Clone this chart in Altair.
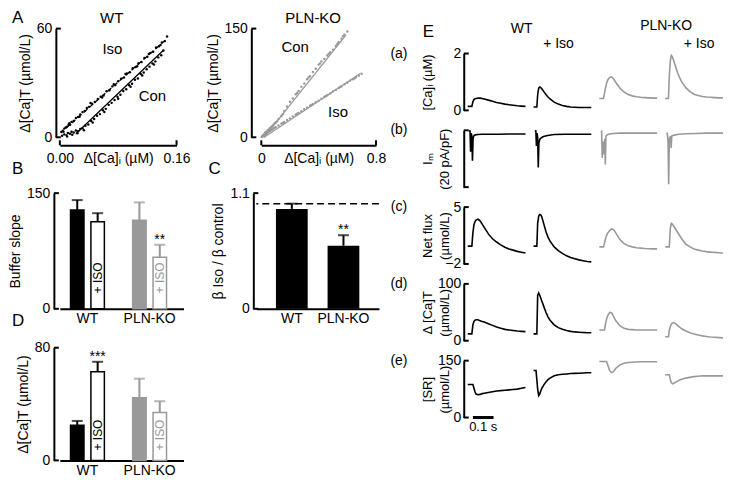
import altair as alt
import pandas as pd

FONT = "Liberation Sans"
BLACK = "#000000"
GRAY = "#999999"
WHITE = "#ffffff"

# ---------------- Panel A : scatter data ----------------
wt_con_x = [0.003, 0.006, 0.009, 0.011, 0.014, 0.016, 0.019, 0.022, 0.025, 0.028,
            0.031, 0.035, 0.039, 0.043, 0.047, 0.051, 0.055, 0.059, 0.063, 0.067,
            0.071, 0.075, 0.079, 0.083, 0.087, 0.091, 0.095, 0.099, 0.103, 0.107,
            0.111, 0.115, 0.119, 0.123, 0.127, 0.131, 0.135, 0.139, 0.142,
            0.010, 0.017, 0.024, 0.033, 0.045, 0.061, 0.080, 0.097, 0.113, 0.129]
wt_con_y = [0.8, 1.6, 1.2, 2.4, 2.0, 3.1, 2.6, 3.8, 3.3, 4.6,
            5.0, 6.4, 7.1, 9.0, 10.1, 11.9, 12.8, 14.9, 15.7, 17.9,
            19.0, 20.6, 22.4, 23.5, 25.6, 26.5, 28.7, 29.6, 31.8, 32.5,
            34.9, 35.8, 37.6, 39.0, 40.7, 41.9, 44.1, 45.3, 47.9,
            0.4, 1.4, 2.2, 3.9, 8.2, 14.0, 21.3, 27.9, 34.1, 40.2]
wt_iso_x = [0.002, 0.004, 0.006, 0.008, 0.010, 0.012, 0.014, 0.016, 0.019, 0.022,
            0.025, 0.028, 0.031, 0.034, 0.037, 0.040, 0.044, 0.048, 0.052, 0.056,
            0.060, 0.064, 0.068, 0.072, 0.076, 0.080, 0.084, 0.088, 0.092, 0.096,
            0.100, 0.104, 0.108, 0.112, 0.116, 0.120, 0.124, 0.128, 0.132, 0.136,
            0.140, 0.144, 0.147,
            0.005, 0.013, 0.027, 0.042, 0.058, 0.074, 0.090, 0.106, 0.122, 0.138]
wt_iso_y = [2.9, 3.6, 4.8, 5.4, 5.9, 7.0, 6.9, 8.5, 9.0, 10.6,
            11.2, 12.6, 13.9, 14.5, 16.2, 16.8, 18.6, 19.5, 21.2, 22.4,
            23.1, 25.4, 26.0, 28.1, 28.9, 30.9, 32.3, 33.0, 35.2, 35.9,
            38.1, 38.8, 40.9, 41.6, 43.8, 44.5, 46.6, 47.2, 49.6, 50.3,
            52.4, 53.1, 55.6,
            3.1, 7.8, 11.3, 18.9, 22.0, 29.3, 35.0, 39.2, 46.0, 51.0]
wt_fit_con_x = [0.022, 0.142]
wt_fit_con_y = [2, 48]
wt_fit_iso_x = [0.008, 0.146]
wt_fit_iso_y = [5, 54]

ko_con_x = [0.004, 0.008, 0.012, 0.016, 0.02, 0.025, 0.03, 0.035, 0.04, 0.045,
            0.05, 0.06, 0.07, 0.08, 0.09, 0.10, 0.12, 0.14, 0.16, 0.18,
            0.20, 0.22, 0.24, 0.26, 0.28, 0.30, 0.32, 0.34, 0.36, 0.38,
            0.40, 0.42, 0.44, 0.46, 0.48, 0.50, 0.52, 0.54, 0.56, 0.58, 0.60,
            0.015, 0.028, 0.055, 0.11, 0.15, 0.25, 0.33, 0.41, 0.47, 0.53, 0.57]
ko_con_y = [0.5, 1.5, 2.2, 3.3, 3.9, 5.2, 6.0, 7.4, 8.1, 9.6,
            10.2, 12.5, 14.6, 16.2, 18.8, 20.5, 25.3, 29.4, 36.2, 42.6,
            49.1, 53.5, 59.3, 63.8, 69.6, 74.1, 80.0, 84.4, 90.2, 94.5,
            100.3, 104.8, 108.2, 112.9, 117.4, 121.0, 126.1, 131.2, 136.0, 141.6, 146.0,
            1.9, 6.6, 10.9, 22.0, 31.8, 61.0, 82.6, 101.9, 115.0, 128.8, 139.5]
ko_iso_x = [0.004, 0.008, 0.012, 0.016, 0.02, 0.025, 0.03, 0.04, 0.05, 0.06,
            0.07, 0.08, 0.10, 0.12, 0.14, 0.16, 0.18, 0.20, 0.22, 0.24,
            0.26, 0.28, 0.30, 0.32, 0.34, 0.36, 0.38, 0.40, 0.42, 0.44,
            0.46, 0.48, 0.50, 0.52, 0.54, 0.56, 0.58, 0.60, 0.62, 0.64,
            0.66, 0.68, 0.70,
            0.035, 0.09, 0.15, 0.25, 0.35, 0.45, 0.55, 0.65]
ko_iso_y = [0.6, 1.3, 2.0, 2.6, 3.1, 3.8, 4.5, 5.9, 7.4, 8.6,
            10.1, 11.2, 13.8, 16.3, 18.9, 21.0, 23.8, 26.1, 28.6, 31.0,
            33.7, 35.9, 38.6, 40.8, 43.5, 45.8, 48.4, 50.6, 53.2, 55.7,
            58.1, 60.5, 63.2, 65.4, 68.1, 70.3, 73.0, 75.2, 77.9, 80.1,
            82.8, 85.0, 87.7,
            5.4, 12.7, 19.8, 32.5, 44.6, 57.0, 69.4, 81.6]
ko_fit_con_x = [0.02, 0.59]
ko_fit_con_y = [0, 141]
ko_fit_iso_x = [0.02, 0.69]
ko_fit_iso_y = [0, 88]

# ---------------- Panels B, C, D : bar data ----------------
bar_groups = ["WT", "WT", "PLN-KO", "PLN-KO"]
bar_conds = ["Con", "Iso", "Con", "Iso"]
bar_keys = ["WT Con", "WT Iso", "PLN-KO Con", "PLN-KO Iso"]
bar_iso_text = ["", "+ ISO", "", "+ ISO"]
slope_mean = [128, 113, 115, 67]
slope_err = [13, 11, 23, 16]
slope_sig = ["", "", "", "**"]
ratio_groups = ["WT", "PLN-KO"]
ratio_mean = [0.95, 0.60]
ratio_err = [0.05, 0.10]
ratio_sig = ["", "**"]
catot_mean = [25, 63, 44.5, 34]
catot_err = [3, 7, 13.5, 8]
catot_sig = ["", "***", "", ""]

# ---------------- Panel E : traces ----------------
t_main = [0, 0.008, 0.012, 0.016, 0.02, 0.025, 0.03, 0.035, 0.04, 0.05, 0.06, 0.07,
          0.08, 0.1, 0.12, 0.14, 0.16, 0.18, 0.2, 0.22, 0.24, 0.26, 0.28]
t_im = [0.008, 0.011, 0.014, 0.017, 0.02, 0.023, 0.026, 0.029, 0.032, 0.038, 0.048,
        0.068, 0.1, 0.15, 0.2, 0.28]

ca_wt = [0.14, 0.14, 0.14, 0.14, 0.14, 0.30, 0.38, 0.41, 0.42, 0.43, 0.43, 0.42,
         0.40, 0.36, 0.32, 0.28, 0.25, 0.22, 0.20, 0.18, 0.16, 0.15, 0.14]
ca_wt_iso = [0.12, 0.12, 0.12, 0.12, 0.55, 0.78, 0.82, 0.80, 0.76, 0.66, 0.56, 0.47,
             0.40, 0.29, 0.22, 0.17, 0.14, 0.12, 0.11, 0.10, 0.10, 0.10, 0.10]
ca_ko = [0.42, 0.42, 0.42, 0.42, 0.42, 0.60, 0.80, 0.95, 1.06, 1.16, 1.18, 1.10,
         0.98, 0.78, 0.64, 0.56, 0.51, 0.48, 0.46, 0.45, 0.44, 0.43, 0.43]
ca_ko_iso = [0.42, 0.42, 0.42, 0.42, 1.20, 1.75, 1.93, 1.88, 1.78, 1.55, 1.33, 1.15,
             1.00, 0.80, 0.66, 0.57, 0.52, 0.49, 0.47, 0.46, 0.45, 0.44, 0.44]

im_wt = [-0.5, 0.0, -7.5, -1.0, -2.0, -10.7, -3.0, -2.0, -1.7, -1.6, -1.5, -1.4,
         -1.4, -1.4, -1.3, -1.3]
im_wt_iso = [-0.5, 0.0, -5.5, -1.0, -2.5, -13.1, -4.5, -3.5, -3.0, -2.6, -2.2, -1.8,
             -1.5, -1.4, -1.4, -1.4]
im_ko = [-0.8, -0.5, -9.7, -4.0, -6.0, -8.5, -3.0, -12.0, -2.0, -1.6, -1.3, -1.1,
         -1.0, -1.0, -1.0, -1.0]
im_ko_iso = [-0.8, -1.5, -4.0, -19.0, -3.0, -2.5, -2.0, -6.2, -2.0, -1.8, -1.6, -1.4,
             -1.2, -1.1, -1.0, -1.0]

flux_wt = [0.2, 0.2, 0.2, 0.2, 0.2, 1.8, 2.8, 3.2, 3.4, 3.5, 3.3, 2.9, 2.5, 1.7, 1.1,
           0.7, 0.35, 0.05, -0.15, -0.3, -0.45, -0.55, -0.65]
flux_wt_iso = [0.2, 0.2, 0.2, 0.2, 3.0, 3.9, 4.1, 4.05, 3.8, 2.9, 2.0, 1.3, 0.8, 0.1,
               -0.35, -0.7, -1.0, -1.2, -1.35, -1.5, -1.6, -1.7, -1.75]
flux_ko = [0.1, 0.1, 0.1, 0.1, 0.1, 0.6, 1.1, 1.5, 1.8, 2.1, 2.3, 2.2, 1.8, 1.0, 0.5,
           0.25, 0.1, 0.0, -0.05, -0.1, -0.12, -0.14, -0.15]
flux_ko_iso = [0.1, 0.1, 0.1, 0.1, 0.1, 2.4, 3.0, 2.9, 2.7, 2.3, 1.9, 1.5, 1.1, 0.45,
               0.1, -0.15, -0.3, -0.4, -0.48, -0.54, -0.58, -0.62, -0.65]

cat_wt = [12, 12, 12, 12, 12, 28, 34, 36, 37, 37, 35, 34, 33, 30, 27, 24, 22, 20, 19,
          18, 17, 16.5, 16]
cat_wt_iso = [12, 12, 12, 12, 80, 84, 80, 75, 70, 60, 50, 42, 36, 28, 23, 20, 18, 16.5,
              15.5, 15, 14.5, 14, 14]
cat_ko = [19, 19, 19, 19, 19, 19, 30, 38, 44, 50, 49, 42, 35, 26, 22, 20, 19.5, 19, 19,
          19, 19, 19, 19]
cat_ko_iso = [7, 7, 7, 7, 18, 25, 29, 31, 32, 30, 27, 24, 21, 17, 14, 12, 10, 8.5, 7.5,
              6.5, 6, 5.5, 5]

sr_wt = [87, 87, 87, 87, 87, 87, 78, 68, 62, 60, 61, 63, 64, 66, 68, 70, 71, 72, 73, 74,
         75, 77, 79]
sr_wt_iso = [124, 124, 124, 100, 75, 58, 62, 70, 77, 86, 94, 100, 104, 110, 113, 114,
             115, 116, 116.5, 117, 117.5, 118, 118]
sr_ko = [148, 148, 148, 148, 148, 148, 148, 148, 140, 124, 118, 122, 130, 139, 143, 145,
         146, 146.5, 147, 147, 147, 147, 147]
sr_ko_iso = [113, 113, 113, 113, 113, 100, 92, 89, 90, 93, 96, 99, 101, 104, 106, 108,
             109, 110, 110, 110, 110, 110, 110]

scalebar_start = [0.025]
scalebar_end = [0.125]
scalebar_label = ["0.1 s"]

# ---------------- helpers ----------------
ONE = pd.DataFrame({"k": [0]})


def label(txt, x, y, size=14, align="center"):
    return alt.Chart(ONE).mark_text(text=txt, fontSize=size, font=FONT, align=align,
                                    baseline="middle", color=BLACK).encode(
        x=alt.value(x), y=alt.value(y))


def ytick_layer(vals, scale, off, axis, ln=5):
    return alt.Chart(pd.DataFrame({"tv": vals})).mark_rule(color=BLACK, strokeWidth=2).encode(
        y=alt.Y("tv:Q", scale=scale, axis=axis),
        x=alt.value(-off), x2=alt.value(-off + ln))


def xtick_layer(vals, scale, off, h, axis, ln=5):
    return alt.Chart(pd.DataFrame({"tv": vals})).mark_rule(color=BLACK, strokeWidth=2).encode(
        x=alt.X("tv:Q", scale=scale, axis=axis),
        y=alt.value(h + off), y2=alt.value(h + off - ln))


def axis_common(**kw):
    base = dict(ticks=False, domainWidth=2, domainColor=BLACK, labelFontSize=14,
                titleFontSize=14, titleFontWeight="normal", grid=False)
    base.update(kw)
    return alt.Axis(**base)


# ---------------- Panel A ----------------
AH = 109


def scatter_panel(cx, cy, ix, iy, fcx, fcy, fix, fiy, col, xdom, ydom, xfmt, yoff, w,
                  title, iso_dash, txt_iso, txt_con, letter=None):
    xs = alt.Scale(domain=xdom, nice=False)
    ys = alt.Scale(domain=ydom, nice=False)
    pts = pd.DataFrame({"x": cx + ix, "y": cy + iy})
    xax = axis_common(values=xdom, format=xfmt, title="Δ[Ca]ᵢ (µM)", offset=8,
                      labelPadding=6, titleY=6, titleBaseline="top", labelFlush=False)
    yax = axis_common(values=ydom, title="Δ[Ca]T (µmol/L)", offset=yoff,
                      labelPadding=4, titlePadding=4)
    layers = [
        alt.Chart(pts).mark_circle(size=6, color=col, opacity=1).encode(
            x=alt.X("x:Q", scale=xs, axis=xax), y=alt.Y("y:Q", scale=ys, axis=yax)),
        alt.Chart(pd.DataFrame({"x": fcx, "y": fcy})).mark_line(color=col, strokeWidth=1.3).encode(
            x=alt.X("x:Q", scale=xs, axis=xax), y=alt.Y("y:Q", scale=ys, axis=yax)),
    ]
    iso_line = alt.Chart(pd.DataFrame({"x": fix, "y": fiy}))
    if iso_dash:
        iso_line = iso_line.mark_line(color=col, strokeWidth=1.3, strokeDash=[5, 3])
    else:
        iso_line = iso_line.mark_line(color=col, strokeWidth=1.3)
    layers.append(iso_line.encode(x=alt.X("x:Q", scale=xs, axis=xax),
                                  y=alt.Y("y:Q", scale=ys, axis=yax)))
    for txt, (tx, ty) in (("Iso", txt_iso), ("Con", txt_con)):
        layers.append(alt.Chart(ONE).mark_text(text=txt, fontSize=15, font=FONT, color=BLACK).encode(
            x=alt.XDatum(tx, scale=xs, axis=xax), y=alt.YDatum(ty, scale=ys, axis=yax)))
    layers.append(ytick_layer(ydom, ys, yoff, yax))
    layers.append(xtick_layer(xdom, xs, 8, AH, xax))
    layers.append(label(title, 52, -11, 15))
    if letter:
        layers.append(label(letter, -48, -11, 17, "left"))
    return alt.layer(*layers).properties(width=w, height=AH)


a_wt = scatter_panel(wt_con_x, wt_con_y, wt_iso_x, wt_iso_y, wt_fit_con_x, wt_fit_con_y,
                     wt_fit_iso_x, wt_fit_iso_y, BLACK, [0, 0.16], [0, 60], ".2f", 4, 117,
                     "WT", True, (0.072, 49), (0.127, 23), letter="A")
a_ko = scatter_panel(ko_con_x, ko_con_y, ko_iso_x, ko_iso_y, ko_fit_con_x, ko_fit_con_y,
                     ko_fit_iso_x, ko_fit_iso_y, GRAY, [0, 0.8], [0, 150], "~g", 10, 115,
                     "PLN-KO", False, (0.535, 35.5), (0.236, 124))

# ---------------- Panels B & D ----------------
fill_scale = alt.Scale(domain=bar_keys, range=[BLACK, WHITE, GRAY, WHITE])
line_scale = alt.Scale(domain=bar_keys, range=[BLACK, BLACK, GRAY, GRAY])


def grouped_bars(mean, err, sig, ydom, ytitle, w, h, yoff, iso_y, letter, ly):
    df = pd.DataFrame({"group": bar_groups, "cond": bar_conds, "key": bar_keys,
                       "mean": mean, "top": [m + e for m, e in zip(mean, err)],
                       "sig": sig, "iso": bar_iso_text})
    xs = alt.Scale(domain=["WT", "PLN-KO"], paddingInner=0.35, paddingOuter=0.17, align=0.35)
    xo = alt.Scale(domain=["Con", "Iso"], paddingInner=0.34, paddingOuter=0.16)
    ys = alt.Scale(domain=ydom, nice=False)
    xax = axis_common(title=None, labelAngle=0, labelPadding=3)
    yax = axis_common(values=ydom, title=ytitle, offset=yoff, labelPadding=4, titlePadding=4)
    X = alt.X("group:N", scale=xs, axis=xax)
    XO = alt.XOffset("cond:N", scale=xo)
    base = alt.Chart(df)
    bars = base.mark_bar(strokeWidth=1.5).encode(
        x=X, xOffset=XO, y=alt.Y("mean:Q", scale=ys, axis=yax),
        fill=alt.Fill("key:N", scale=fill_scale, legend=None),
        stroke=alt.Stroke("key:N", scale=line_scale, legend=None))
    errs = base.mark_rule(strokeWidth=2).encode(
        x=X, xOffset=XO, y=alt.Y("mean:Q", scale=ys, axis=yax), y2="top:Q",
        color=alt.Color("key:N", scale=line_scale, legend=None))
    caps = base.mark_tick(orient="horizontal", size=11, thickness=2).encode(
        x=X, xOffset=XO, y=alt.Y("top:Q", scale=ys, axis=yax),
        color=alt.Color("key:N", scale=line_scale, legend=None))
    isot = base.mark_text(angle=270, fontSize=12, font=FONT, baseline="middle").encode(
        x=X, xOffset=XO, y=alt.YDatum(iso_y, scale=ys, axis=yax), text="iso:N",
        color=alt.Color("key:N", scale=line_scale, legend=None))
    sigt = base.mark_text(fontSize=14, font=FONT, baseline="bottom", dy=2, color=BLACK).encode(
        x=X, xOffset=XO, y=alt.Y("top:Q", scale=ys, axis=yax), text="sig:N")
    return alt.layer(errs, caps, bars, isot, sigt, ytick_layer(ydom, ys, yoff, yax),
                     label(letter, -48, ly, 17, "left")).properties(width=w, height=h)


panel_b = grouped_bars(slope_mean, slope_err, slope_sig, [0, 150], "Buffer slope",
                       124, 116, 6, 40, "B", -24)
panel_d = grouped_bars(catot_mean, catot_err, catot_sig, [0, 80], "Δ[Ca]T (µmol/L)",
                       124, 113, 6, 18, "D", -27)

# ---------------- Panel C ----------------
c_df = pd.DataFrame({"group": ratio_groups, "mean": ratio_mean,
                     "top": [m + e for m, e in zip(ratio_mean, ratio_err)], "sig": ratio_sig})
c_xs = alt.Scale(domain=ratio_groups, paddingInner=0.385, paddingOuter=0.38)
c_ys = alt.Scale(domain=[0, 1.1], nice=False)
c_col = alt.Scale(domain=ratio_groups, range=[BLACK, GRAY])
c_xax = axis_common(title=None, labelAngle=0, labelPadding=3)
c_yax = axis_common(values=[0, 1.1], labelExpr="datum.value == 0 ? '0' : format(datum.value, '.1f')",
                    title="β Iso / β control", offset=3, labelPadding=4, titlePadding=4)
c_base = alt.Chart(c_df)
c_X = alt.X("group:N", scale=c_xs, axis=c_xax)
panel_c = alt.layer(
    c_base.mark_rule(strokeWidth=2).encode(
        x=c_X, y=alt.Y("mean:Q", scale=c_ys, axis=c_yax), y2="top:Q",
        color=alt.Color("group:N", scale=c_col, legend=None)),
    c_base.mark_tick(orient="horizontal", size=11, thickness=2).encode(
        x=c_X, y=alt.Y("top:Q", scale=c_ys, axis=c_yax),
        color=alt.Color("group:N", scale=c_col, legend=None)),
    c_base.mark_bar().encode(
        x=c_X, y=alt.Y("mean:Q", scale=c_ys, axis=c_yax),
        color=alt.Color("group:N", scale=c_col, legend=None)),
    alt.Chart(pd.DataFrame({"r": [1.0]})).mark_rule(color=BLACK, strokeWidth=1.5,
                                                    strokeDash=[7, 4]).encode(
        y=alt.Y("r:Q", scale=c_ys, axis=c_yax)),
    c_base.mark_text(fontSize=14, font=FONT, baseline="bottom", dy=2, color=BLACK).encode(
        x=c_X, y=alt.Y("top:Q", scale=c_ys, axis=c_yax), text="sig:N"),
    ytick_layer([0, 1.1], c_ys, 3, c_yax),
    label("C", -48, -24, 17, "left"),
).properties(width=123, height=116)

# ---------------- Panel E ----------------
EW, EH = 60, 57
ts = alt.Scale(domain=[0, 0.29], nice=False)
col_colors = [BLACK, BLACK, GRAY, GRAY]
e_rows = [
    ("(a)", t_main, [ca_wt, ca_wt_iso, ca_ko, ca_ko_iso], [0, 2], "[Ca]ᵢ (µM)", True),
    ("(b)", t_im, [im_wt, im_wt_iso, im_ko, im_ko_iso], [-20, 0], ["Iₘ", "(20 pA/pF)"], False),
    ("(c)", t_main, [flux_wt, flux_wt_iso, flux_ko, flux_ko_iso], [-2, 5],
     ["Net flux", "(µmol/L)"], True),
    ("(d)", t_main, [cat_wt, cat_wt_iso, cat_ko, cat_ko_iso], [0, 100],
     ["Δ [Ca]T", "(µmol/L)"], True),
    ("(e)", t_main, [sr_wt, sr_wt_iso, sr_ko, sr_ko_iso], [0, 150], ["[SR]", "(µmol/L)"], True),
]

cells = []
for ri, (rlab, tt, series, ydom, ytitle, show_lab) in enumerate(e_rows):
    ys = alt.Scale(domain=ydom, nice=False)
    for ci, vals in enumerate(series):
        df = pd.DataFrame({"t": tt, "v": vals})
        if ci == 0:
            yax = axis_common(values=ydom, title=ytitle, offset=4, labels=show_lab,
                              labelPadding=3, titleFontSize=13, titleX=-29,
                              titleBaseline="bottom", titleLineHeight=17)
        else:
            yax = None
        layers = [alt.Chart(df).mark_line(color=col_colors[ci], strokeWidth=1.6).encode(
            x=alt.X("t:Q", scale=ts, axis=None), y=alt.Y("v:Q", scale=ys, axis=yax))]
        if ci == 0:
            layers.append(ytick_layer(ydom, ys, 4, yax))
            layers.append(label(rlab, -69, 0, 14))
            if ri == len(e_rows) - 1:
                sb = pd.DataFrame({"x0": scalebar_start, "x1": scalebar_end,
                                   "lab": scalebar_label, "y": [ydom[0]]})
                layers.append(alt.Chart(sb).mark_rule(color=BLACK, strokeWidth=3).encode(
                    x=alt.X("x0:Q", scale=ts, axis=None), x2="x1:Q",
                    y=alt.Y("y:Q", scale=ys, axis=yax)))
                layers.append(alt.Chart(sb).transform_calculate(
                    xc="(datum.x0 + datum.x1) / 2").mark_text(
                    fontSize=13, font=FONT, baseline="top", dy=4, color=BLACK).encode(
                    x=alt.X("xc:Q", scale=ts, axis=None),
                    y=alt.Y("y:Q", scale=ys, axis=yax), text="lab:N"))
        cells.append(alt.layer(*layers).properties(width=EW, height=EH))

e_grid = alt.concat(*cells, columns=4, spacing={"row": 20, "column": 6}, bounds="flush")

# column headers of panel E
e_header = alt.layer(
    label("E", -45, 3, 17, "left"),
    label("WT", 54, 0, 14),
    label("+ Iso", 91, 15, 14),
    label("PLN-KO", 199, -3, 14),
    label("+ Iso", 232, 15, 14),
).properties(width=258, height=20)

right = alt.vconcat(e_header, e_grid, spacing=-4)

# ---------------- assemble ----------------
row_a = alt.hconcat(a_wt, a_ko, spacing=85, bounds="flush")
row_bc = alt.hconcat(panel_b, panel_c, spacing=73, bounds="flush")
left_top = alt.vconcat(row_a, row_bc, spacing=-5)
left = alt.vconcat(left_top, panel_d, spacing=-14)

chart = alt.hconcat(left, right, spacing=4).properties(
    padding=0
).configure_view(stroke=None).configure_axis(
    labelFont=FONT, titleFont=FONT, labelColor=BLACK, titleColor=BLACK, domainColor=BLACK
).configure_title(font=FONT, color=BLACK, fontWeight="normal")

chart.save("out.html", embed_options={"renderer": "svg", "actions": False})
